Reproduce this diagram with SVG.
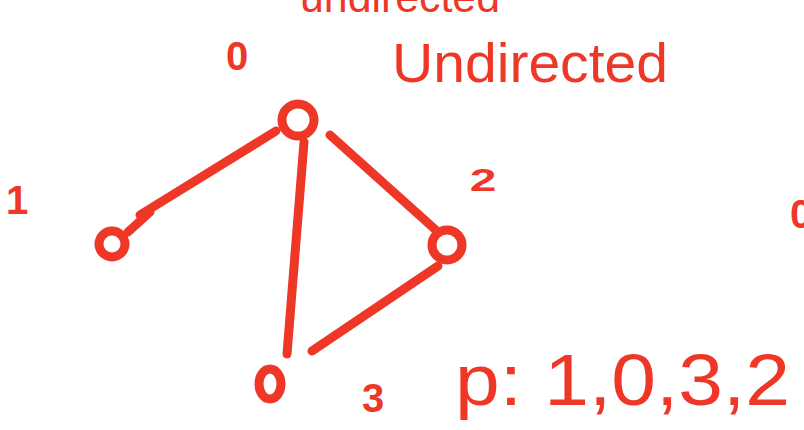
<svg xmlns="http://www.w3.org/2000/svg" width="804" height="430" viewBox="0 0 804 430">
<style>
.ink{fill:none;stroke:#EE3726;stroke-width:9;stroke-linecap:round;stroke-linejoin:round}
.t{fill:#EE3726;font-family:"Liberation Sans",Arial,sans-serif}
.lb{font-size:40px;font-weight:bold;text-anchor:middle}
</style>
<rect width="804" height="430" fill="#fff"/>
<text class="t" x="300" y="12" font-size="44" textLength="200" lengthAdjust="spacingAndGlyphs">undirected</text>
<text class="t" x="392" y="82" font-size="56" textLength="276" lengthAdjust="spacingAndGlyphs">Undirected</text>
<g id="edges">
<path class="ink" d="M276,131 L140,215 M150,212 L128,232"/>
<path class="ink" d="M330,135 L438,232" stroke-width="11"/>
<path class="ink" d="M304,142 L287,354" stroke-width="10"/>
<path class="ink" d="M312,351 L438,266"/>
</g>
<g id="node0">
<circle class="ink" cx="298" cy="120" r="16" stroke-width="10"/>
<text class="t lb" x="237" y="70">0</text>
</g>
<g id="node1">
<circle class="ink" cx="112" cy="244" r="13"/>
<text class="t lb" x="17" y="214">1</text>
</g>
<g id="node2">
<circle class="ink" cx="447" cy="245" r="15" stroke-width="14"/>
<text class="t lb" x="483" y="192" transform="translate(483 185) scale(1.2 0.8) translate(-483 -185)">2</text>
</g>
<g id="node3">
<ellipse class="ink" cx="270" cy="384" rx="11" ry="15"/>
<text class="t lb" x="373" y="412">3</text>
</g>
<text class="t" x="790" y="228" font-size="40" font-weight="bold">0</text>
<text class="t" x="455" y="405" font-size="72" textLength="335" lengthAdjust="spacingAndGlyphs">p: 1,0,3,2</text>
</svg>
